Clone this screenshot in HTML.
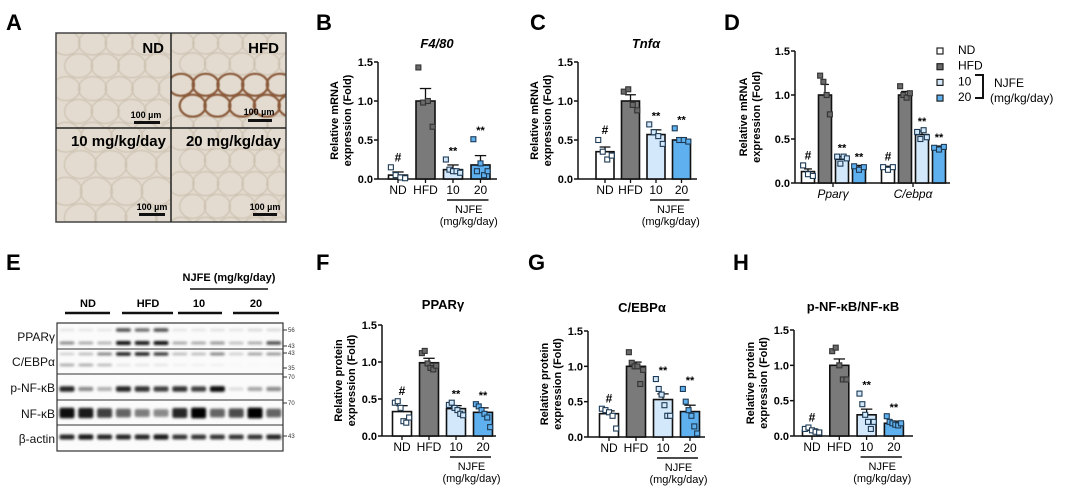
<!DOCTYPE html>
<html><head><meta charset="utf-8">
<style>
html,body{margin:0;padding:0;background:#fff;}
svg{display:block;font-family:"Liberation Sans",sans-serif;}
.pl{font-weight:bold;font-size:22px;}
.tk{font-weight:bold;font-size:11px;}
.ax{font-weight:bold;font-size:11px;}
</style></head>
<body>
<svg id="fig" width="1065" height="490" viewBox="0 0 1065 490" xmlns="http://www.w3.org/2000/svg">
<defs>
<filter id="blur1" x="-20%" y="-100%" width="140%" height="300%"><feGaussianBlur stdDeviation="1.2"/></filter>
<filter id="blur2"><feGaussianBlur stdDeviation="0.6"/></filter>
<clipPath id="q0"><rect x="56" y="33" width="115" height="95"/></clipPath>
<clipPath id="q1"><rect x="171" y="33" width="115" height="95"/></clipPath>
<clipPath id="q2"><rect x="56" y="128" width="115" height="94"/></clipPath>
<clipPath id="q3"><rect x="171" y="128" width="115" height="94"/></clipPath>
</defs>
<text class="pl" x="6" y="30">A</text>
<text class="pl" x="316" y="30">B</text>
<text class="pl" x="530" y="30">C</text>
<text class="pl" x="724" y="30">D</text>
<text class="pl" x="6" y="270">E</text>
<text class="pl" x="316" y="270">F</text>
<text class="pl" x="528" y="270">G</text>
<text class="pl" x="733" y="270">H</text>

<g>
<rect x="56" y="33" width="230" height="189" fill="#e3dbcf"/>
<g id="cells0" clip-path="url(#q0)" fill="none" stroke="#c9bdac" stroke-width="1" filter="url(#blur2)"></g>
<g id="cells1" clip-path="url(#q1)" fill="none" stroke="#c9bdac" stroke-width="1" filter="url(#blur2)"></g>
<g id="cells2" clip-path="url(#q2)" fill="none" stroke="#c9bdac" stroke-width="1" filter="url(#blur2)"></g>
<g id="cells3" clip-path="url(#q3)" fill="none" stroke="#c9bdac" stroke-width="1" filter="url(#blur2)"></g>
<g id="hfdcells" clip-path="url(#q1)" fill="none" stroke="#8a5a3a" stroke-width="2.2" filter="url(#blur2)"></g>
<rect x="56" y="33" width="230" height="189" fill="none" stroke="#444" stroke-width="1.5"/>
<line x1="171" y1="33" x2="171" y2="222" stroke="#222" stroke-width="1.5"/>
<line x1="56" y1="128" x2="286" y2="128" stroke="#222" stroke-width="1.5"/>
<text x="164" y="53" font-size="15" font-weight="bold" text-anchor="end">ND</text>
<text x="279" y="53" font-size="15" font-weight="bold" text-anchor="end">HFD</text>
<text x="166" y="146" font-size="15" font-weight="bold" text-anchor="end">10 mg/kg/day</text>
<text x="281" y="146" font-size="15" font-weight="bold" text-anchor="end">20 mg/kg/day</text>
<g font-size="9" font-weight="bold" text-anchor="middle">
<text x="146" y="118">100 µm</text><rect x="134" y="121" width="26" height="3" fill="#111"/>
<text x="259" y="115">100 µm</text><rect x="248" y="119" width="24" height="3" fill="#111"/>
<text x="152" y="210">100 µm</text><rect x="139" y="213" width="26" height="3" fill="#111"/>
<text x="265" y="210">100 µm</text><rect x="253" y="213" width="24" height="3" fill="#111"/>
</g>
</g>

<g>
<text x="229" y="281" font-size="11" font-weight="bold" text-anchor="middle">NJFE (mg/kg/day)</text>
<line x1="190" y1="289" x2="268" y2="289" stroke="#111" stroke-width="1.5"/>
<g font-size="11" font-weight="bold" text-anchor="middle">
<text x="88" y="307">ND</text>
<text x="148" y="307">HFD</text>
<text x="199" y="307">10</text>
<text x="256" y="307">20</text>
</g>
<g stroke="#111" stroke-width="2.5">
<line x1="65" y1="313" x2="110" y2="313"/><line x1="122" y1="313" x2="173" y2="313"/>
<line x1="178" y1="313" x2="222" y2="313"/><line x1="233" y1="313" x2="279" y2="313"/>
</g>
<rect x="57" y="323" width="226" height="128" fill="#fbfbfb"/>
<g id="bands" filter="url(#blur1)"></g>
<rect x="57" y="323" width="226" height="128" fill="none" stroke="#333" stroke-width="1.2"/>
<g stroke="#333" stroke-width="1"><line x1="57" y1="349" x2="283" y2="349"/><line x1="57" y1="374" x2="283" y2="374"/><line x1="57" y1="400" x2="283" y2="400"/><line x1="57" y1="425" x2="283" y2="425"/></g>
<g font-size="12" text-anchor="end" fill="#111">
<text x="55" y="341">PPARγ</text>
<text x="55" y="366">C/EBPα</text>
<text x="55" y="392">p-NF-κB</text>
<text x="55" y="418">NF-κB</text>
<text x="55" y="443">β-actin</text>
</g>
<g font-size="6" fill="#333">
<text x="288" y="332">56</text><text x="288" y="348">43</text><text x="288" y="355">43</text><text x="288" y="370">35</text>
<text x="288" y="379">70</text><text x="288" y="405">70</text><text x="288" y="438">43</text>
<line x1="283" y1="330" x2="287" y2="330" stroke="#333"/><line x1="283" y1="346" x2="287" y2="346" stroke="#333"/>
<line x1="283" y1="353" x2="287" y2="353" stroke="#333"/><line x1="283" y1="368" x2="287" y2="368" stroke="#333"/>
<line x1="283" y1="377" x2="287" y2="377" stroke="#333"/><line x1="283" y1="403" x2="287" y2="403" stroke="#333"/>
<line x1="283" y1="436" x2="287" y2="436" stroke="#333"/>
</g>
</g>

<g id="charts"></g>
</svg>

<script>
// ---------- DATA ----------
const groups = ["ND","HFD","10","20"];
const yTicks = [0.0,0.5,1.0,1.5];
const yTickLabels = ["0.0","0.5","1.0","1.5"];

const bMeans = [0.05,1.0,0.12,0.18];
const bErr = [0.04,0.16,0.06,0.12];
const bPts = [[0.15,0.05,0.02,0.01],[1.43,0.98,1.0,0.67],[0.25,0.12,0.1,0.1,0.08],[0.51,0.1,0.2,0.05,0.1]];

const cMeans = [0.35,1.0,0.57,0.5];
const cErr = [0.06,0.08,0.06,0.03];
const cPts = [[0.5,0.35,0.25,0.3],[1.12,1.15,0.95,0.88],[0.7,0.6,0.55,0.45],[0.65,0.5,0.5,0.48]];

const dCats = ["Pparγ","C/ebpα"];
const dPparMeans = [0.13,1.0,0.27,0.18];
const dPparErr = [0.03,0.12,0.03,0.02];
const dPparPts = [[0.2,0.1,0.08],[1.22,1.15,1.0,0.78],[0.3,0.22,0.3,0.28],[0.19,0.15,0.18]];
const dCebpMeans = [0.17,1.0,0.55,0.4];
const dCebpErr = [0.02,0.04,0.04,0.02];
const dCebpPts = [[0.18,0.15,0.18],[1.1,1.0,0.97,1.02],[0.58,0.5,0.6,0.52],[0.4,0.38,0.41]];

const fMeans = [0.33,0.99,0.37,0.32];
const fErr = [0.08,0.06,0.04,0.06];
const fPts = [[0.45,0.47,0.38,0.2,0.18,0.25],[1.12,1.15,0.98,0.92,0.9,0.95],[0.42,0.45,0.38,0.35,0.3,0.28],[0.43,0.4,0.35,0.3,0.25,0.12]];

const gMeans = [0.33,1.0,0.53,0.36];
const gErr = [0.04,0.06,0.08,0.09];
const gPts = [[0.4,0.38,0.35,0.3,0.12],[1.2,1.05,1.0,1.0,0.75,0.95],[0.82,0.68,0.6,0.45,0.3,0.3],[0.68,0.5,0.38,0.3,0.15,0.05]];

const hMeans = [0.08,1.0,0.3,0.18];
const hErr = [0.02,0.09,0.08,0.03];
const hPts = [[0.1,0.12,0.08,0.06,0.05],[1.2,1.25,1.0,0.8,0.8],[0.6,0.45,0.3,0.2,0.1,0.2],[0.28,0.2,0.18,0.16,0.15,0.18]];

const blotPparUpper = [0.1,0.1,0.1,0.7,0.6,0.7,0.1,0.1,0.12,0.1,0.15,0.15];
const blotPparLower = [0.45,0.35,0.3,0.95,0.9,0.95,0.35,0.35,0.4,0.25,0.35,0.7];
const blotCebpUpper = [0.2,0.3,0.5,0.9,0.9,0.8,0.3,0.3,0.5,0.2,0.4,0.45];
const blotCebpLower = [0.35,0.35,0.3,0.1,0.1,0.1,0.05,0.05,0.05,0.02,0.02,0.02];
const blotPnfkb = [0.85,0.45,0.3,0.85,0.8,0.75,0.8,0.75,0.95,0.12,0.35,0.45];
const blotNfkb = [0.95,0.9,0.75,0.6,0.5,0.45,0.85,1.0,0.6,0.7,1.0,0.6];
const blotActin = [0.85,0.9,0.85,0.85,0.85,0.9,0.8,0.8,0.8,0.8,0.8,0.85];

// ---------- DRAW ----------
const NS = "http://www.w3.org/2000/svg";
const root = document.getElementById("charts");
const fills = ["#ffffff","#7a7a7a","#d3e9fb","#5fb0ee"];
const ptFills = ["#ffffff","#6a6a6a","#d3e9fb","#5fb0ee"];
function mk(tag, attrs, parent){
  const e = document.createElementNS(NS, tag);
  for (const k in attrs) e.setAttribute(k, attrs[k]);
  (parent||root).appendChild(e);
  return e;
}
function txt(s, attrs, parent){ const e = mk("text", attrs, parent); e.textContent = s; return e; }

function axes(g, L, prefix){
  const y = v => L.y0 - v/1.5*(L.y0-L.y15);
  const ax = mk("line",{x1:L.ax,y1:L.y15,x2:L.ax,y2:L.y0,stroke:"#111","stroke-width":1.5},g);
  
  
  const xa = mk("line",{x1:L.ax,y1:L.y0,x2:L.xEnd,y2:L.y0,stroke:"#111","stroke-width":1.5},g);
  
  
  yTicks.forEach((v,i)=>{
    mk("line",{x1:L.ax-4,y1:y(v),x2:L.ax,y2:y(v),stroke:"#111","stroke-width":1.5},g);
    const t = txt(yTickLabels[i],{x:L.ax-5,y:y(v)+4,"text-anchor":"end",class:"tk"},g);
    
    
  });
  return y;
}
function bars(g, y, L, centers, means, errs, pts, bw, prefix, marks){
  means.forEach((m,i)=>{
    const cx = centers[i];
    const top = y(m);
    const el = errs[i];
    mk("line",{x1:cx,y1:y(m+el),x2:cx,y2:top,stroke:"#111","stroke-width":1.3},g);
    mk("line",{x1:cx-bw*0.3,y1:y(m+el),x2:cx+bw*0.3,y2:y(m+el),stroke:"#111","stroke-width":1.3},g);
    const r = mk("rect",{x:cx-bw/2,y:top,width:bw,height:L.y0-top,fill:fills[i],stroke:"#111","stroke-width":1.6},g);
    
    
    const n = pts[i].length;
    pts[i].forEach((v,j)=>{
      const off = n>1 ? (j/(n-1)-0.5)*bw*0.75 : 0;
      const p = mk("rect",{x:cx+off-2.5,y:y(v)-2.5,width:5,height:5,fill:ptFills[i],stroke:i==1?"#333":"#1d3a55","stroke-width":1.1},g);
      
      
    });
    const mx = Math.max(m+el, ...pts[i]);
    if (marks[i]) {
      const s = txt(marks[i],{x:cx,y:y(mx)-(marks[i]=="#"?6:5),"text-anchor":"middle","font-size":marks[i]=="#"?12:11,"font-weight":"bold"},g);
      
      
    }
  });
}
function ylabel(g, x, cy, l1, l2, prefix, fs){
  const t = txt("",{transform:"translate("+x+","+cy+") rotate(-90)","text-anchor":"middle",class:"ax","font-size":fs||11},g);
  const a = mk("tspan",{x:0,dy:0},t); a.textContent = l1;
  const b = mk("tspan",{x:0,dy:13},t); b.textContent = l2;
  
  
}
function simpleChart(L, means, errs, pts, prefix, title, italic, yl1, yl2){
  const g = mk("g",{});
  
  
  const y = axes(g, L, prefix);
  const centers = groups.map((_,i)=>L.c0 + i*L.step);
  bars(g, y, L, centers, means, errs, pts, L.bw, prefix, ["#","","**","**"]);
  groups.forEach((s,i)=>{
    mk("line",{x1:centers[i],y1:L.y0,x2:centers[i],y2:L.y0+4,stroke:"#111","stroke-width":1.3},g);
    const t = txt(s,{x:centers[i],y:L.y0+15,"text-anchor":"middle","font-size":12},g);
    
    
  });
  mk("line",{x1:centers[2]-6,y1:L.y0+21,x2:centers[3]+8,y2:L.y0+21,stroke:"#111","stroke-width":1.5},g);
  const cm = (centers[2]+centers[3])/2 + 2;
  const n1 = txt("NJFE",{x:cm,y:L.y0+34,"text-anchor":"middle","font-size":11},g);
  
  
  const n2 = txt("(mg/kg/day)",{x:cm,y:L.y0+46,"text-anchor":"middle","font-size":11},g);
  
  
  const tt = txt(title,{x:L.tx,y:L.ty,"text-anchor":"middle","font-size":13,"font-weight":"bold","font-style":italic?"italic":"normal"},g);
  
  
  ylabel(g, L.ax-40, (L.y0+L.y15)/2, yl1, yl2, prefix);
}

simpleChart({ax:378,y15:62,y0:179,xEnd:497,c0:398,step:27.5,bw:19,tx:437,ty:48}, bMeans,bErr,bPts,"f480","F4/80",true,"Relative mRNA","expression (Fold)");
simpleChart({ax:578,y15:62,y0:179,xEnd:697,c0:605,step:25.5,bw:18,tx:646,ty:48}, cMeans,cErr,cPts,"tnfa","Tnfα",true,"Relative mRNA","expression (Fold)");
simpleChart({ax:382,y15:325,y0:436,xEnd:496,c0:402,step:27,bw:19,tx:443,ty:309}, fMeans,fErr,fPts,"ppar-protein","PPARγ",false,"Relative protein","expression (Fold)");
simpleChart({ax:588,y15:331,y0:437,xEnd:705,c0:609,step:27,bw:19,tx:642,ty:312}, gMeans,gErr,gPts,"cebp-protein","C/EBPα",false,"Relative protein","expression (Fold)");
simpleChart({ax:794,y15:330,y0:436,xEnd:913,c0:812,step:27.3,bw:19,tx:853,ty:311}, hMeans,hErr,hPts,"nfkb-ratio","p-NF-κB/NF-κB",false,"Relative protein","expression (Fold)");

(function(){
  const L = {ax:795,y15:51,y0:183,xEnd:950};
  const g = mk("g",{});
  
  
  const y = axes(g, L, "adipo");
  const c1 = groups.map((_,i)=>808+i*17);
  const c2 = groups.map((_,i)=>888+i*17);
  bars(g, y, L, c1, dPparMeans, dPparErr, dPparPts, 13, "pparg-mrna", ["#","","**","**"]);
  bars(g, y, L, c2, dCebpMeans, dCebpErr, dCebpPts, 13, "cebpa-mrna", ["#","","**","**"]);
  [833,913].forEach((x,i)=>{
    mk("line",{x1:x,y1:L.y0,x2:x,y2:L.y0+4,stroke:"#111","stroke-width":1.3},g);
    const t = txt(dCats[i],{x:x,y:L.y0+15,"text-anchor":"middle","font-size":12,"font-style":"italic"},g);
    
    
  });
  ylabel(g, 747, 117, "Relative mRNA", "expression  (Fold)", "adipo", 12);
  groups.forEach((s,i)=>{
    const yy = 54 + i*15.7;
    const m = mk("rect",{x:937,y:yy-6,width:6,height:6,fill:ptFills[i],stroke:"#222","stroke-width":1.2},g);
    
    
    const t = txt(s,{x:958,y:yy,"font-size":12},g);
    
    
  });
  mk("path",{d:"M 975 75 H 983 V 98 H 975",fill:"none",stroke:"#111","stroke-width":2},g);
  const a = txt("NJFE",{x:994,y:87,"font-size":12},g);
  
  
  const b = txt("(mg/kg/day)",{x:990,y:102,"font-size":12},g);
  
  
})();

(function(){
  const bg = document.getElementById("bands");
  const lane = i => 67 + i*18.8;
  const rows = [[blotPparUpper,330,3.5],[blotPparLower,343,3.5],[blotCebpUpper,354,3],[blotCebpLower,365,3],[blotPnfkb,389,5],[blotNfkb,413,9],[blotActin,437,4.5]];
  rows.forEach(r=>{
    r[0].forEach((v,i)=>{
      const h = r[2]*(0.6+0.6*v);
      const b = mk("rect",{x:lane(i)-7.5,y:r[1]-h/2,width:15,height:h,rx:2,fill:"#000","fill-opacity":v},bg);
      
      
    });
  });
})();

(function(){
  const hg = document.getElementById("hfdcells");
  const quads = [[56,33],[171,33],[56,128],[171,128]];
  const sizes = [[14,12],[13,11],[16,14],[13,12]];
  quads.forEach((q,qi)=>{
    const cg = document.getElementById("cells"+qi);
    const s = sizes[qi];
    for (let r=0;r<5;r++) for (let c=0;c<5;c++){
      const cx = q[0]+10+c*s[0]*1.9+(r%2)*s[0]*0.9, cy = q[1]+10+r*s[1]*1.9;
      if (cx>q[0]+125 || cy>q[1]+105) continue;
      const e = mk("ellipse",{cx:cx,cy:cy,rx:s[0],ry:s[1]},qi==1&&r>=2&&r<4?hg:cg);
      
      
    }
  });
})();
</script>
</body></html>
